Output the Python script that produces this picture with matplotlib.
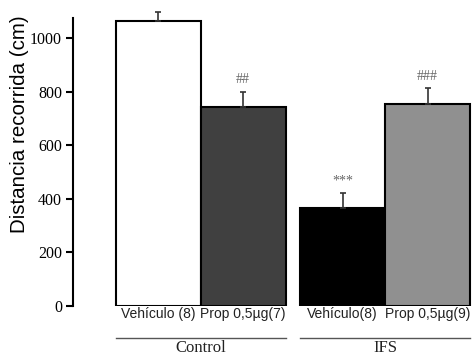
import matplotlib
matplotlib.use("Agg")
import matplotlib.pyplot as plt

categories = ["Vehículo (8)", "Prop 0,5µg(7)", "Vehículo(8)", "Prop 0,5µg(9)"]
groups = ["Control", "IFS"]
values = [1063, 743, 366, 755]
errors = [34, 56, 56, 58]
signif = ["", "##", "***", "###"]
colors = ["#ffffff", "#404040", "#000000", "#909090"]
yticks = [0, 200, 400, 600, 800, 1000]

positions = [0, 1, 2.17, 3.17]

fig = plt.figure(figsize=(4.76, 3.56), dpi=100)
ax = fig.add_axes([73/476, 50/356, 1 - 73/476, (306-10)/356])

ax.bar(positions, values, width=1.0, color=colors, edgecolor="black", linewidth=1.5, zorder=2)
ax.errorbar(positions, values, yerr=[[0]*4, errors], fmt="none", ecolor="#333333",
            elinewidth=1.2, capsize=2.5, capthick=1.2, zorder=3)
for p, v, e, s in zip(positions, values, errors, signif):
    if s:
        ax.text(p, v + e + 45, s, ha="center", va="center", fontsize=10,
                color="#666666", family="Liberation Serif")

ax.set_xlim(-1.0, 3.74)
ax.set_ylim(0, 1105)
ax.spines["left"].set_bounds(0, 1075)
ax.set_yticks(yticks)
ax.set_yticklabels([str(t) for t in yticks], family="Liberation Serif", fontsize=11.5)
ax.tick_params(axis="y", direction="out", length=5, width=1.5, pad=3)
ax.set_xticks([])
for s in ["top", "right", "bottom"]:
    ax.spines[s].set_visible(False)
ax.spines["left"].set_linewidth(1.5)
ax.patch.set_alpha(0)

fig.text(20/476, 1 - 124/356, "Distancia recorrida (cm)", rotation=90, ha="center", va="center",
         family="Liberation Sans", fontsize=14.8)

for p, c in zip(positions, categories):
    ax.text(p, -28, c, ha="center", va="center", fontsize=10, family="Liberation Sans",
            color="#222222", clip_on=False)

group_spans = [(positions[0], positions[1]), (positions[2], positions[3])]
for (a, b), g in zip(group_spans, groups):
    ax.plot([a - 0.5, b + 0.5], [-120, -120], color="#555555", lw=1, clip_on=False)
    ax.text((a + b) / 2, -157, g, ha="center", va="center", fontsize=12,
            family="Liberation Serif", color="#222222", clip_on=False)

fig.savefig("out.png", dpi=100)
